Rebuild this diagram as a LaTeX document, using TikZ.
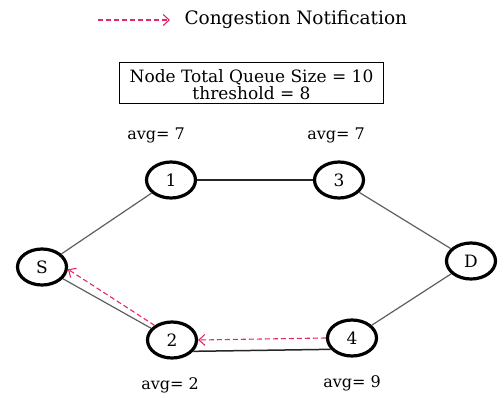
\documentclass[tikz,border=0pt]{standalone}
\usepackage{fontspec}
\setmainfont{DejaVu Serif}
\usetikzlibrary{arrows.meta,shapes.geometric}
\definecolor{notify}{RGB}{228,40,100}
\definecolor{link}{RGB}{95,95,95}
\tikzset{
  router/.style={ellipse,draw=black,line width=3.2pt,minimum width=49pt,minimum height=36pt,inner sep=0pt,font=\fontsize{17}{17}\selectfont},
  avglabel/.style={font=\fontsize{16}{16}\selectfont},
  graylink/.style={draw=link,line width=1.2pt},
  darklink/.style={draw=black!85,line width=1.5pt},
  notice/.style={draw=notify,line width=1.1pt,dash pattern=on 5pt off 3pt,-{Straight Barb[length=6pt,width=11pt,line width=1.1pt]}}
}
\begin{document}
\begin{tikzpicture}[x=1pt,y=-1pt]
  \useasboundingbox (0,0) rectangle (499,392);
  % legend
  \coordinate (legA) at (98,20);
  \coordinate (legB) at (170,20);
  \draw[notice] (legA) -- (legB);
  \node[anchor=west,font=\fontsize{18.5}{18.5}\selectfont] (legtext) at (181,20) {Congestion Notification};
  % queue parameters
  \node[draw=black,line width=1.8pt,minimum width=264pt,minimum height=41pt] (info) at (251.5,83) {};
  \node[align=center,inner sep=0pt,font=\fontsize{17}{17}\selectfont] (infotext) at (251.5,85) {Node Total Queue Size = 10\\threshold = 8};
  % routers
  \node[router] (S) at (42,267) {S};
  \node[router] (n1) at (171,180) {1};
  \node[router] (n3) at (339,180) {3};
  \node[router] (D) at (471,261) {D};
  \node[router] (n2) at (172,340) {2};
  \node[router] (n4) at (352,338) {4};
  % average queue lengths
  \node[avglabel] (a1) at (156,135) {avg= 7};
  \node[avglabel] (a3) at (336,135) {avg= 7};
  \node[avglabel] (a2) at (170,385) {avg= 2};
  \node[avglabel] (a4) at (352,383) {avg= 9};
  % links
  \draw[graylink] (S) -- (n1);
  \draw[darklink] (n1) -- (n3);
  \draw[graylink] (n3) -- (D);
  \draw[graylink] (D) -- (n4);
  \draw[graylink] (S) -- (n2);
  \draw[darklink] (n2.-28) -- (n4.-152);
  % notifications
  \draw[notice] (n4.west) -- (n2.east);
  \draw[notice] (n2.140) -- (S.-5);
\end{tikzpicture}
\end{document}
